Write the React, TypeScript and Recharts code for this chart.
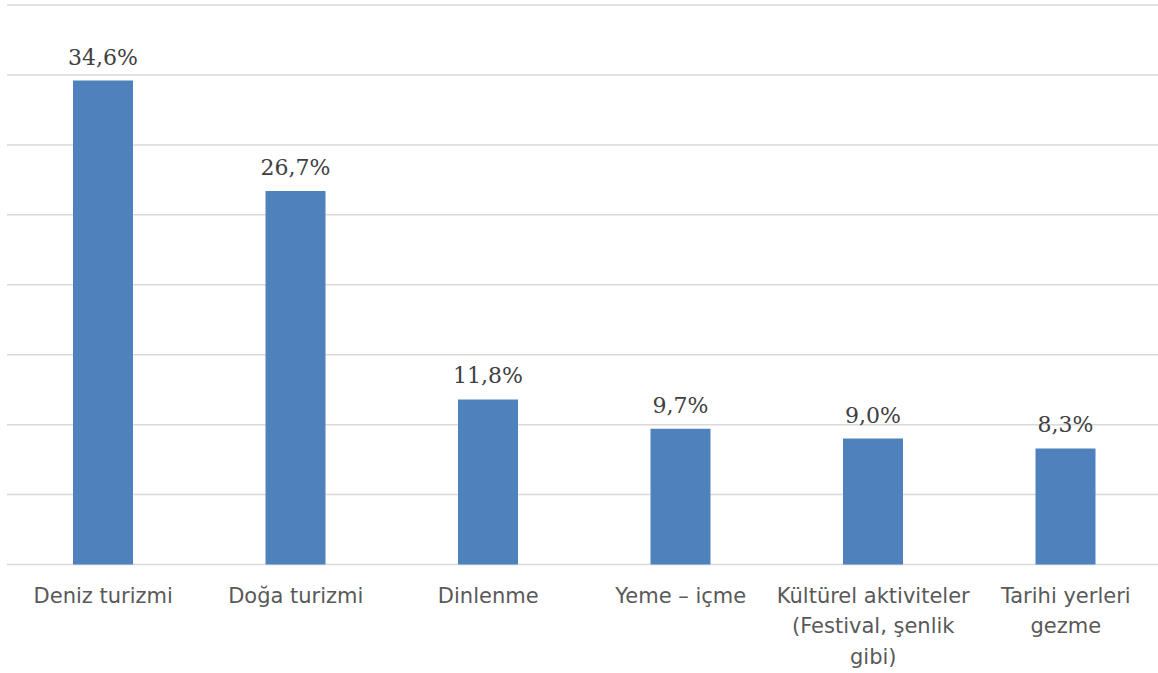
import React from 'react';
import { BarChart, Bar, XAxis, YAxis, CartesianGrid, LabelList } from 'recharts';

// Share of respondents by main holiday activity (%)
const categories = [
  'Deniz turizmi',
  'Doğa turizmi',
  'Dinlenme',
  'Yeme – içme',
  'Kültürel aktiviteler (Festival, şenlik gibi)',
  'Tarihi yerleri gezme',
];
const shares = [34.6, 26.7, 11.8, 9.7, 9.0, 8.3];

// how each category name wraps under the axis
const tickLines: Record<string, string[]> = {
  'Deniz turizmi': ['Deniz turizmi'],
  'Doğa turizmi': ['Doğa turizmi'],
  Dinlenme: ['Dinlenme'],
  'Yeme – içme': ['Yeme – içme'],
  'Kültürel aktiviteler (Festival, şenlik gibi)': ['Kültürel aktiviteler', '(Festival, şenlik', 'gibi)'],
  'Tarihi yerleri gezme': ['Tarihi yerleri', 'gezme'],
};

const yTicks = [0, 5, 10, 15, 20, 25, 30, 35, 40];

const data = categories.map((name, i) => ({ name, value: shares[i] }));

const formatPct = (v: number) => `${v.toFixed(1).replace('.', ',')}%`;

function CategoryTick(props: any) {
  const { x, y, payload } = props;
  const lines = tickLines[payload.value] ?? [payload.value];
  return (
    <text
      x={x}
      y={y + 38}
      textAnchor="middle"
      fill="#595959"
      fontSize={21}
      fontFamily="'DejaVu Sans', Verdana, sans-serif"
    >
      {lines.map((line, i) => (
        <tspan key={i} x={x} dy={i === 0 ? 0 : 30.5}>
          {line}
        </tspan>
      ))}
    </text>
  );
}

export default function App() {
  return (
    <div style={{ position: 'absolute', left: 0, top: 0, width: 1158, height: 673, overflow: 'hidden', background: '#fff' }}>
      <BarChart width={1170} height={673} data={data} margin={{ top: 5, right: 8, bottom: 78.5, left: 7 }}>
        <CartesianGrid vertical={false} stroke="#d9d9d9" strokeWidth={1.5} />
        <XAxis
          dataKey="name"
          height={30}
          axisLine={false}
          tickLine={false}
          tickSize={0}
          tickMargin={0}
          interval={0}
          tick={<CategoryTick />}
        />
        <YAxis hide domain={[0, 40]} ticks={yTicks} />
        <Bar dataKey="value" fill="#4f81bd" barSize={60} isAnimationActive={false}>
          <LabelList
            dataKey="value"
            position="top"
            offset={16}
            formatter={(v: any) => formatPct(Number(v))}
            fill="#404040"
            fontSize={22}
            fontFamily="'DejaVu Serif', serif"
          />
        </Bar>
      </BarChart>
    </div>
  );
}
